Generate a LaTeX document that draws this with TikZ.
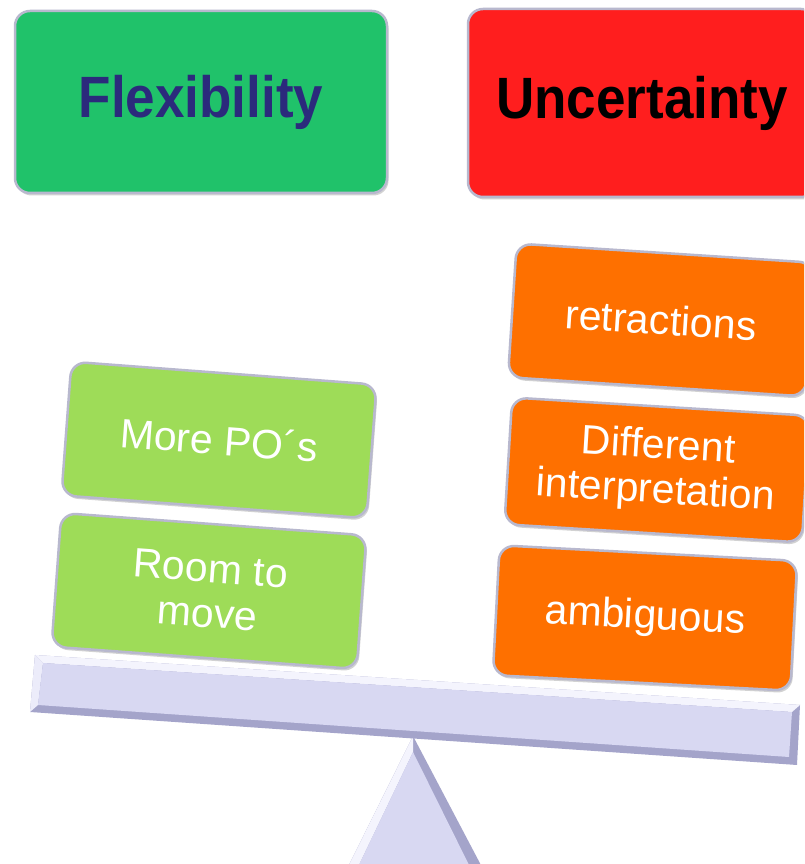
\documentclass[tikz,border=0pt]{standalone}
\usepackage{fontspec}
\setmainfont{Liberation Sans}
\usetikzlibrary{shadows}
\definecolor{flexgreen}{HTML}{20C26A}
\definecolor{uncred}{HTML}{FF1E1E}
\definecolor{lightgreen}{HTML}{9EDC58}
\definecolor{orangebox}{HTML}{FE7000}
\definecolor{navytext}{HTML}{2B2A7C}
\definecolor{rimgray}{HTML}{B8B8CE}
\definecolor{beamface}{HTML}{D8D8F2}
\definecolor{beamdark}{HTML}{A4A4CA}
\definecolor{beamlight}{HTML}{F4F4FD}
\begin{document}
\begin{tikzpicture}[x=1pt,y=1pt,
  box/.style={rounded corners=15pt, draw=rimgray, line width=2.5pt,
    drop shadow={opacity=0.35,shadow xshift=1.5pt,shadow yshift=-2.5pt},
    inner sep=0pt, align=center},
  titlebox/.style={box, font=\fontsize{53}{60}\selectfont\bfseries},
  itembox/.style={box, text=white, font=\fontsize{41}{45}\selectfont},
  greenitem/.style={itembox, fill=lightgreen, minimum width=306pt, minimum height=134pt},
  orangeitem/.style={itembox, fill=orangebox, minimum width=298pt, minimum height=130pt}]
\useasboundingbox (0,0) rectangle (804,864);
\clip (0,0) rectangle (804,864);
\fill[white] (0,0) rectangle (804,864);

% fulcrum
\fill[beamdark] (413,128) -- (347,-5) -- (483,-5) -- cycle;
\fill[beamlight] (413,128) -- (347,-5) -- (357,-5) -- (413,112) -- cycle;
\fill[beamface] (413,112) -- (357,-5) -- (471,-5) -- cycle;

% beam
\fill[beamdark] (35,209) -- (800,159) -- (797,99) -- (30,152) -- cycle;
\fill[beamlight] (35,209) -- (800,159) -- (792,152) -- (43,201) -- cycle;
\fill[beamlight!70!beamface] (35,209) -- (43,201) -- (38,159) -- (30,152) -- cycle;
\fill[beamface] (43,201) -- (792,152) -- (789,107) -- (38,159) -- cycle;

% title boxes
\node[titlebox, fill=flexgreen, text=navytext, minimum width=372pt, minimum height=182pt]
  (flex) at (201,762) {\scalebox{1}[1.1]{Flexibility}};
\node[titlebox, fill=uncred, text=black, minimum width=348pt, minimum height=188pt]
  (unc) at (642,761) {\scalebox{1}[1.1]{Uncertainty}};

% left pan
\node[greenitem, rotate=-4.3] (more) at (219,424) {More PO´s};
\node[greenitem, rotate=-4.2] (room) at (209,273) {Room to\\move};

% right pan
\node[orangeitem, rotate=-3.7, minimum height=134pt] (retr) at (661,544) {retractions};
\node[orangeitem, rotate=-3.5, minimum height=127pt] (diff) at (657,394) {Different\\interpretation};
\node[orangeitem, rotate=-3.0] (ambi) at (645,246) {ambiguous};
\end{tikzpicture}
\end{document}
